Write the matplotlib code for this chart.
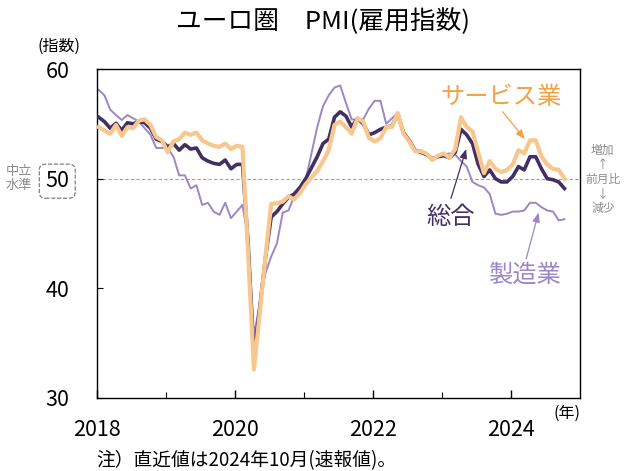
import numpy as np
import matplotlib
matplotlib.use('Agg')
import matplotlib.pyplot as plt
from matplotlib.ticker import FixedLocator

plt.rcParams['font.family'] = ['Noto Sans CJK JP', 'DejaVu Sans']

# monthly, Jan 2018 .. Oct 2024
composite = [55.6, 55.2, 54.6, 55.05, 54.4, 55.1, 55.0, 55.2, 55.1, 54.6,
             53.6, 53.4, 52.9, 53.2, 52.6, 53.1, 52.7, 52.8, 51.9, 51.6,
             51.4, 51.3, 51.7, 50.9, 51.3, 51.3,
             44.0, 33.6, 38.2, 42.8, 46.5, 47.0, 47.7, 48.3, 48.6, 49.2,
             50.0, 51.0, 52.0, 53.2, 53.6, 55.6, 56.1, 55.7, 54.7, 55.5,
             55.0, 54.0, 54.2, 54.5, 54.7, 54.8, 55.9, 54.2, 53.5, 52.6,
             52.4, 52.2, 51.8, 52.0, 52.1, 51.9, 52.4, 54.5, 54.0, 53.2,
             51.3, 50.2, 50.8, 50.0, 49.7, 49.7, 50.2, 51.1, 50.8, 52.0,
             52.0, 50.9, 50.0, 49.9, 49.7, 49.1]
services = [54.7, 54.4, 54.1, 54.9, 53.9, 54.7, 54.6, 55.3, 55.4, 54.9,
            53.8, 53.5, 52.4, 53.4, 53.6, 54.2, 54.0, 54.2, 53.5, 53.2,
            53.0, 52.9, 53.2, 52.7, 53.0, 52.9,
            43.0, 32.6, 37.7, 42.9, 47.7, 47.75, 47.9, 48.4, 48.1, 48.7,
            49.5, 50.1, 50.7, 51.6, 52.6, 54.9, 55.2, 54.7, 54.1, 55.5,
            55.2, 53.7, 53.4, 53.7, 54.7, 54.7, 56.0, 54.1, 53.4, 52.5,
            52.5, 52.3, 51.7, 52.1, 52.3, 51.9, 52.7, 55.6, 54.7, 54.3,
            52.4, 50.5, 51.6, 50.9, 50.6, 50.8, 51.3, 52.6, 52.3, 53.5,
            53.5, 52.0, 51.3, 50.9, 50.8, 50.0]
manufacturing = [58.1, 57.6, 56.3, 55.8, 55.35, 55.8, 55.5, 55.2, 54.6, 54.0,
                 52.8, 52.8, 52.8, 52.0, 50.3, 50.3, 49.1, 49.4, 47.6, 47.8,
                 47.0, 46.7, 47.8, 46.4, 47.0, 47.6,
                 44.5, 35.7, 38.6, 41.4, 42.9, 44.1, 46.9, 47.1, 48.4, 49.2,
                 49.9, 52.3, 54.7, 56.6, 57.6, 58.3, 58.5, 56.9, 55.4, 55.4,
                 55.4, 56.4, 57.1, 57.1, 55.0, 55.5, 56.0, 54.3, 53.3, 52.6,
                 52.6, 52.3, 51.9, 52.0, 52.2, 52.3, 52.2, 51.6, 51.1, 49.7,
                 49.4, 49.2, 48.6, 46.8, 46.7, 46.8, 47.0, 47.0, 47.1, 47.8,
                 47.8, 47.4, 47.1, 47.0, 46.2, 46.3]

months = np.arange(len(composite))
x = 2018 + (months + 0.3) / 12.0

year_ticks = [2018, 2020, 2022, 2024]
y_ticks = [30, 40, 50, 60]

c_comp = '#433063'
c_serv = '#F8C78D'
c_serv_txt = '#F2A245'
c_mfg = '#9B86C8'
grey = '#8C8C8C'

fig = plt.figure(figsize=(6.24, 4.71), dpi=100)
ax = fig.add_axes([0.1554, 0.155, 0.7741, 0.6985])

ax.axhline(50, color='#A0A0A0', lw=0.8, ls=(0, (3, 2)), zorder=1)
ax.plot(x, manufacturing, color=c_mfg, lw=1.4, zorder=2)
ax.plot(x, composite, color=c_comp, lw=2.6, zorder=3)
ax.plot(x, services, color=c_serv, lw=3.0, zorder=4)

ax.set_xlim(2018, 2025)
ax.set_ylim(30, 60)
ax.xaxis.set_major_locator(FixedLocator(year_ticks))
ax.xaxis.set_minor_locator(FixedLocator([2019, 2021, 2023]))
ax.yaxis.set_major_locator(FixedLocator(y_ticks))
ax.set_xticklabels([str(v) for v in year_ticks])
ax.tick_params(axis='x', which='major', direction='in', length=6, width=1,
               labelsize=15.5, pad=15)
ax.tick_params(axis='x', which='minor', direction='in', length=4, width=0.8)
ax.tick_params(axis='y', direction='in', length=4, width=0.8,
               labelsize=15.5, pad=20)
for s in ax.spines.values():
    s.set_linewidth(1.0)

for lab in ax.get_yticklabels():
    if lab.get_text() == '50':
        lab.set_bbox(dict(boxstyle='round,pad=0.28', fc='none', ec='#707070',
                          ls='--', lw=0.8))

# labels + arrows
def label(txt, pos, col):
    ax.text(pos[0], pos[1], txt, color=col, fontsize=17.5, ha='center',
            va='center')

def arrow(tail, head, col):
    ax.annotate('', xy=head, xytext=tail,
                arrowprops=dict(arrowstyle='-|>,head_length=0.55,head_width=0.22',
                                color=col, lw=0.9, shrinkA=0, shrinkB=0))

label('サービス業', (2023.86, 57.45), c_serv_txt)
arrow((2023.88, 56.1), (2024.2, 53.6), c_serv_txt)
label('総合', (2023.13, 46.5), c_comp)
arrow((2023.13, 48.2), (2023.35, 52.7), c_comp)
label('製造業', (2024.19, 41.2), c_mfg)
arrow((2024.22, 42.7), (2024.4, 46.9), c_mfg)

fig.text(0.517, 0.953, 'ユーロ圏　PMI(雇用指数)', ha='center', va='center',
         fontsize=18.5)
fig.text(0.095, 0.902, '(指数)', ha='center', va='center', fontsize=11.5)
fig.text(0.908, 0.123, '(年)', ha='center', va='center', fontsize=11.5)
fig.text(0.031, 0.621, '中立\n水準', ha='center', va='center', fontsize=9.5,
         color=grey, linespacing=1.05)
fig.text(0.966, 0.62, '増加\n↑\n前月比\n↓\n減少', ha='center', va='center',
         fontsize=8.5, color=grey, linespacing=1.15)
fig.text(0.155, 0.023, '注）直近値は2024年10月(速報値)。', ha='left',
         va='center', fontsize=13.5)

fig.savefig('out.png', dpi=100)
